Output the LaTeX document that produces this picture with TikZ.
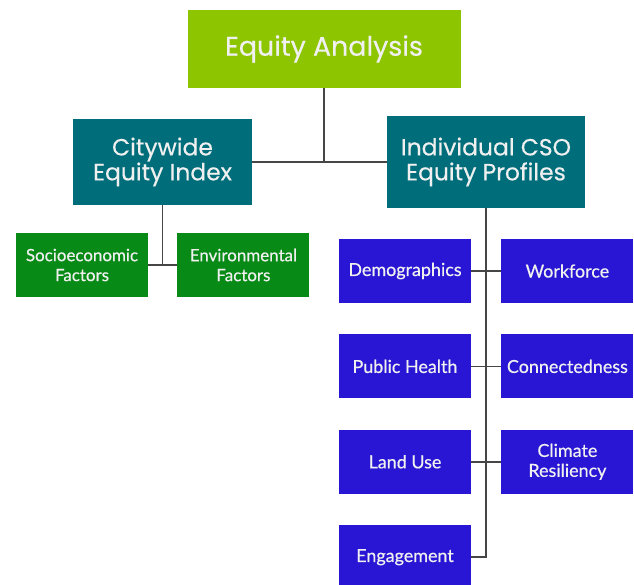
\documentclass[tikz,border=0pt]{standalone}
\usepackage{fontspec}
\setmainfont{Lato}
\newfontfamily\headfont[FakeBold=0.4]{Poppins}
\newfontfamily\boxfont[FakeBold=0.5]{Lato}
\usepackage{tikz}
\usetikzlibrary{positioning,calc}
\usepackage{xcolor}
\definecolor{limeg}{RGB}{141,198,0}
\definecolor{tealb}{RGB}{0,109,122}
\definecolor{leafg}{RGB}{8,138,22}
\definecolor{profb}{RGB}{40,22,212}
\definecolor{linkc}{RGB}{70,70,70}

\begin{document}
\begin{tikzpicture}[x=1bp, y=-1bp,
    box/.style={inner sep=0pt, align=center, text=white!94!black},
    head/.style={box, font=\headfont\fontsize{23.5}{25}\selectfont},
    sub/.style={box, fill=leafg, minimum width=132bp, minimum height=64bp, font=\boxfont\fontsize{17}{20}\selectfont},
    prof/.style={box, fill=profb, minimum width=132bp, minimum height=64bp, font=\boxfont\fontsize{18}{20}\selectfont},
    link/.style={draw=linkc, line width=1.5bp}
]
\useasboundingbox (0,0) rectangle (634,585);
\node[head, fill=limeg, minimum width=273bp, minimum height=78bp, font=\headfont\fontsize{27}{30}\selectfont] (ea) at (324,49) {Equity Analysis};
\node[head, fill=tealb, minimum width=179bp, minimum height=86bp] (city) at (162.5,162) {Citywide\\Equity Index};
\node[head, fill=tealb, minimum width=198bp, minimum height=91bp] (indiv) at (486,162) {Individual CSO\\Equity Profiles};
\node[sub] (socio) at (82,265) {Socioeconomic\\Factors};
\node[sub, right=29bp of socio] (env) {Environmental\\Factors};
\node[prof] (demo) at (405,271) {Demographics};
\node[prof, right=30bp of demo] (work) {Workforce};
\node[prof, below=31bp of demo] (health) {Public Health};
\node[prof, right=30bp of health] (conn) {Connectedness};
\node[prof, below=31bp of health] (land) {Land Use};
\node[prof, right=30bp of land] (clim) {Climate\\Resiliency};
\node[prof, below=31bp of land] (eng) {Engagement};
\draw[link] (ea.south) -- (ea.south |- city.east);
\draw[link] (city.east) -- (indiv.west);
\draw[link] (city.south) -- (city.south |- socio.east);
\draw[link] (socio.east) -- (env.west);
\draw[link] (indiv.south) |- (eng.east);
\draw[link] (demo.east) -- (work.west);
\draw[link] (health.east) -- (conn.west);
\draw[link] (land.east) -- (clim.west);
\end{tikzpicture}
\end{document}
